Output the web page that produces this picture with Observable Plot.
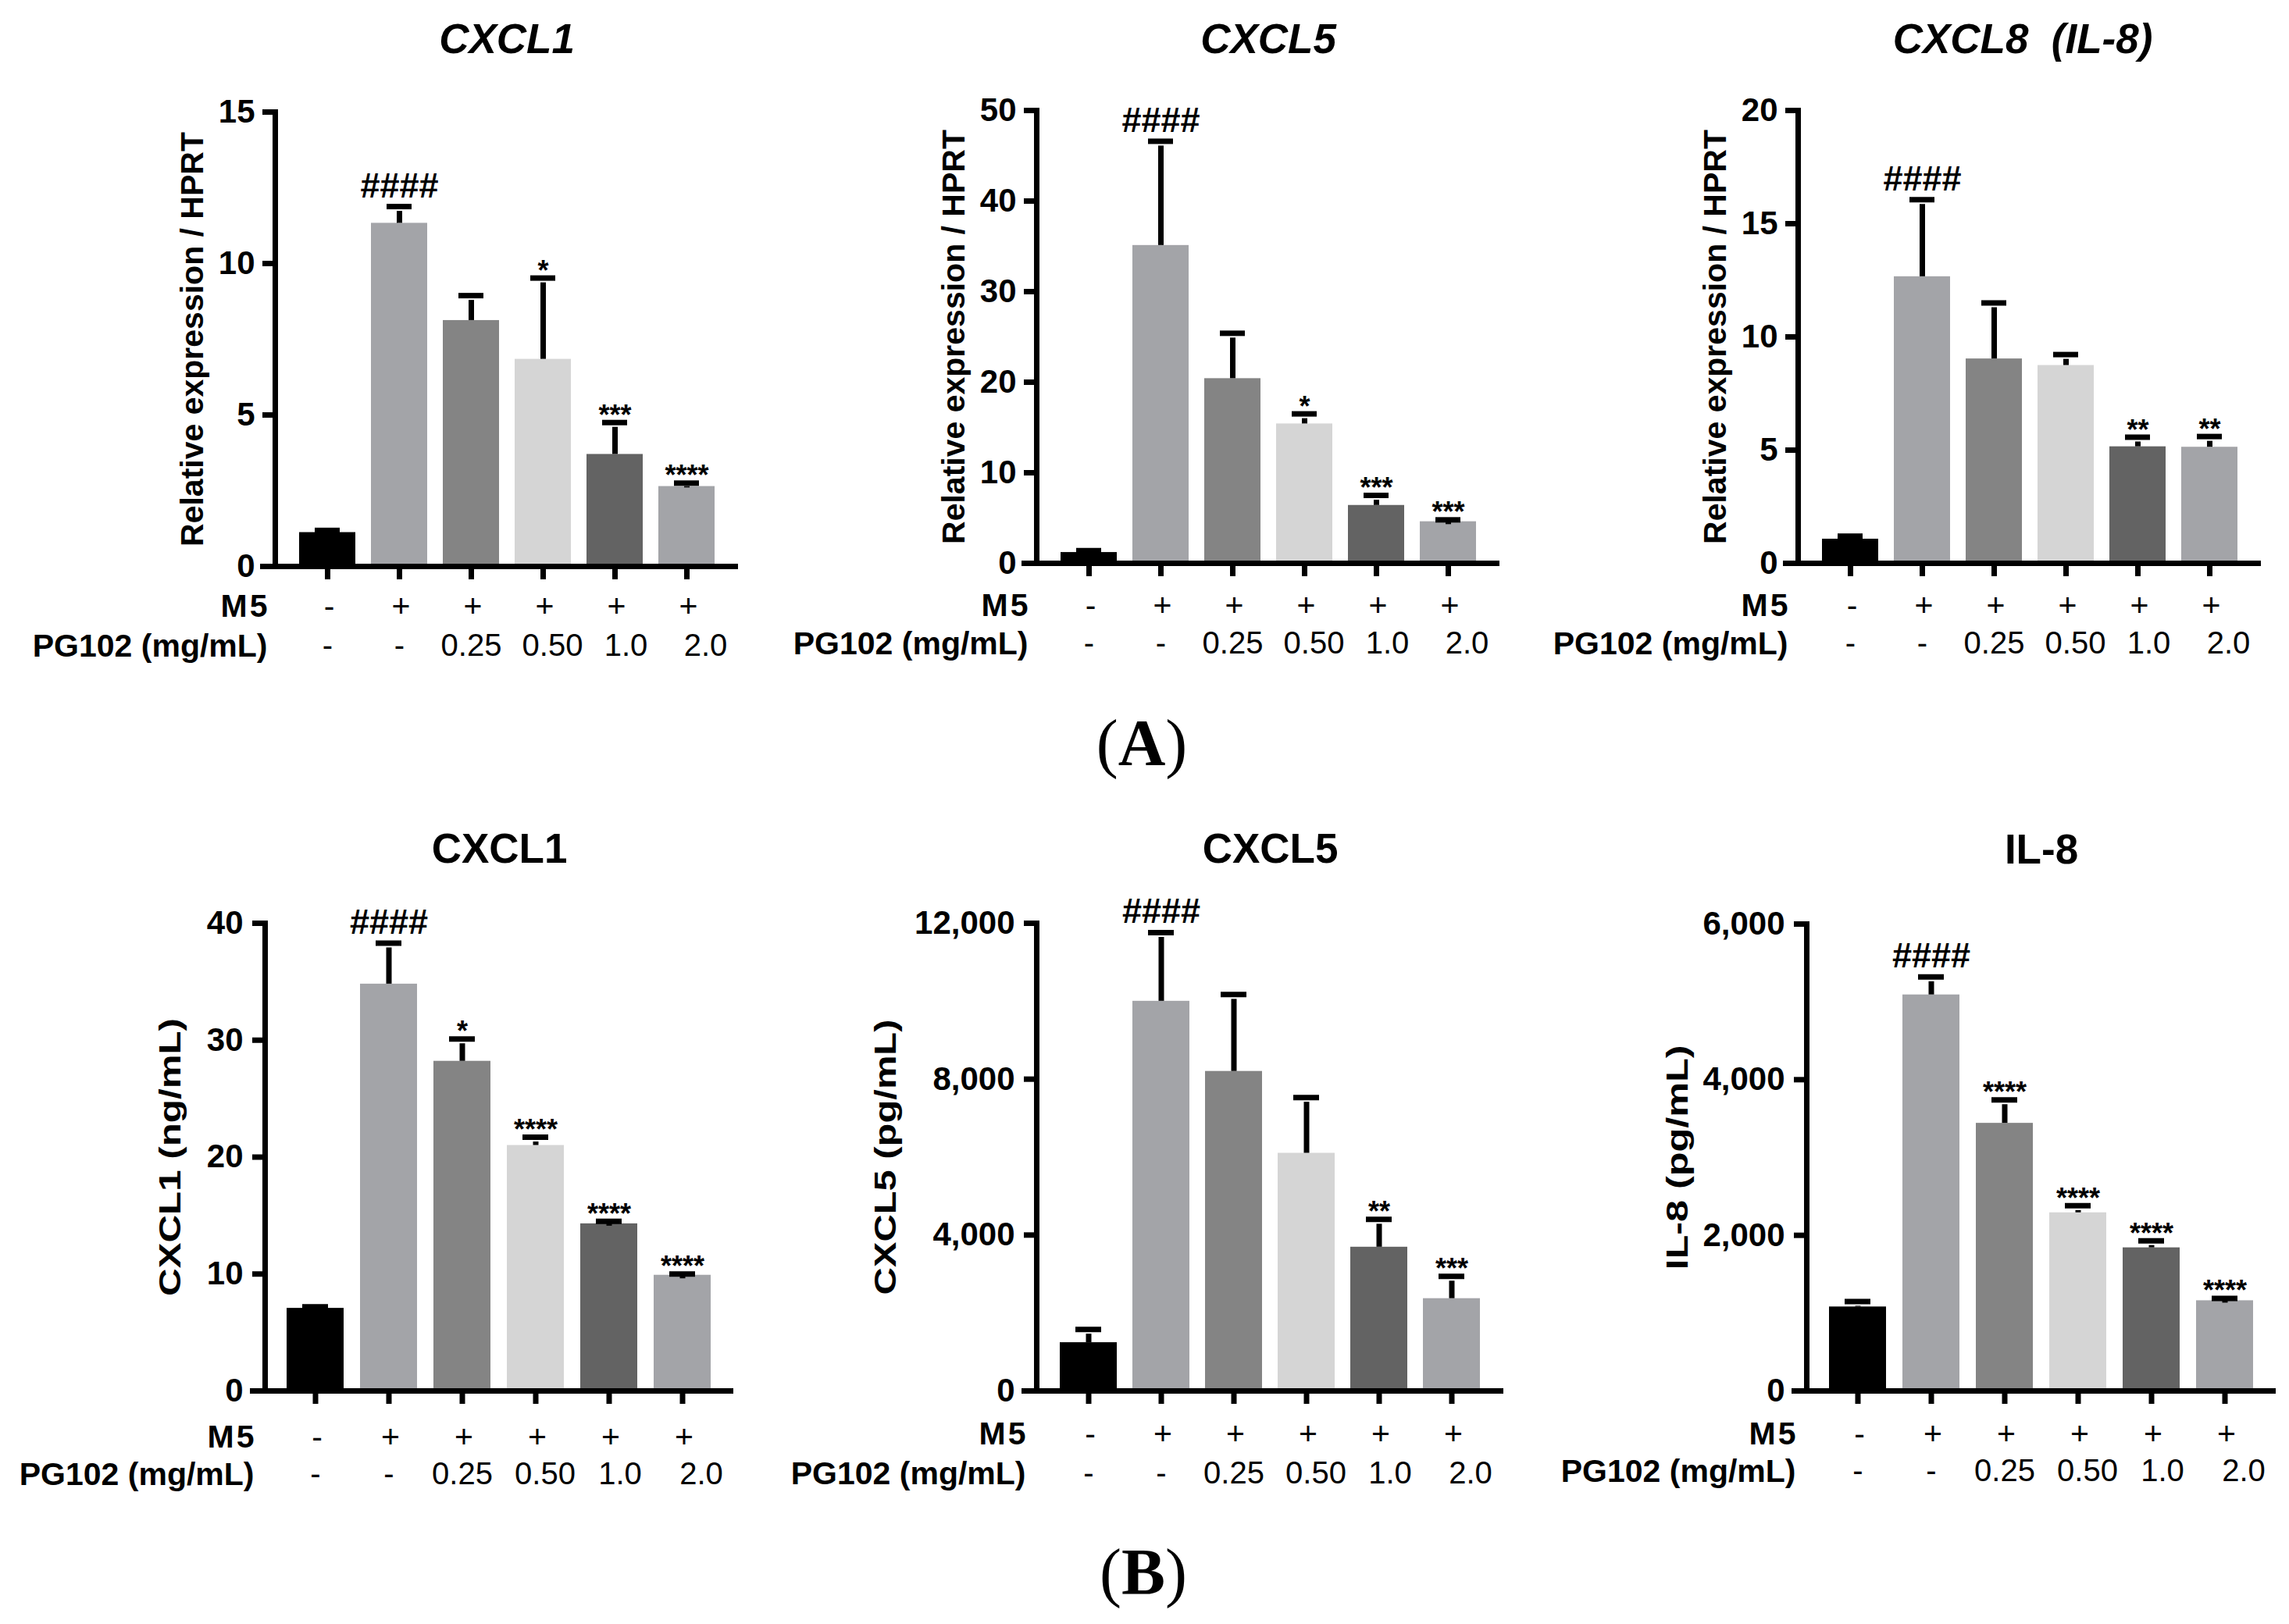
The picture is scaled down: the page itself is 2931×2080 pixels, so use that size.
<!DOCTYPE html>
<html><head><meta charset="utf-8">
<script src="https://cdn.jsdelivr.net/npm/d3@7"></script>
<script src="https://cdn.jsdelivr.net/npm/@observablehq/plot@0.6"></script>
<style>
html,body{margin:0;padding:0;background:#fff;}
body{width:2931px;height:2080px;position:relative;overflow:hidden;font-family:"Liberation Sans",Arial,sans-serif;}
.panel{position:absolute;}
.plabel{position:absolute;font-family:"Liberation Serif","Times New Roman",serif;font-size:84px;line-height:84px;width:300px;text-align:center;color:#000;}
</style></head><body>
<div class="plabel" style="left:1312px;top:910px">(<b>A</b>)</div>
<div class="plabel" style="left:1314px;top:1972px">(<b>B</b>)</div>
<script>
// ---- shared categories / labels ----
const categories = ["Control","M5","M5+PG102 0.25","M5+PG102 0.50","M5+PG102 1.0","M5+PG102 2.0"];
const m5Row = ["-","+","+","+","+","+"];
const pg102Row = ["-","-","0.25","0.50","1.0","2.0"];
const barColors = ["#000000","#a3a4a8","#848484","#d5d5d5","#636363","#a3a4a8"];

// ---- (A) mRNA, relative expression / HPRT (mean, mean + error) ----
const aCxcl1Mean  = [1.12, 11.33, 8.12, 6.84, 3.70, 2.64];
const aCxcl1Upper = [1.19, 11.88, 8.94, 9.52, 4.75, 2.75];
const aCxcl1Sig   = ["", "####", "", "*", "***", "****"];

const aCxcl5Mean  = [1.2, 35.1, 20.4, 15.4, 6.4, 4.6];
const aCxcl5Upper = [1.4, 46.6, 25.4, 16.5, 7.5, 4.8];
const aCxcl5Sig   = ["", "####", "", "*", "***", "***"];

const aCxcl8Mean  = [1.07, 12.66, 9.03, 8.74, 5.15, 5.13];
const aCxcl8Upper = [1.20, 16.06, 11.5, 9.22, 5.57, 5.60];
const aCxcl8Sig   = ["", "####", "", "", "**", "**"];

// ---- (B) protein (mean, mean + error) ----
const bCxcl1Mean  = [7.07, 34.8, 28.2, 21.0, 14.3, 9.9];
const bCxcl1Upper = [7.2, 38.3, 30.1, 21.7, 14.5, 10.0];
const bCxcl1Sig   = ["", "####", "*", "****", "****", "****"];

const bCxcl5Mean  = [1240, 10000, 8200, 6100, 3690, 2370];
const bCxcl5Upper = [1580, 11760, 10170, 7530, 4400, 2940];
const bCxcl5Sig   = ["", "####", "", "", "**", "***"];

const bIl8Mean  = [1080, 5090, 3440, 2290, 1840, 1160];
const bIl8Upper = [1150, 5320, 3740, 2380, 1930, 1190];
const bIl8Sig   = ["", "####", "****", "****", "****", "****"];

// tick values
const aCxcl1Ticks = [0, 5, 10, 15];
const aCxcl5Ticks = [0, 10, 20, 30, 40, 50];
const aCxcl8Ticks = [0, 5, 10, 15, 20];
const bCxcl1Ticks = [0, 10, 20, 30, 40];
const bCxcl5Ticks = [0, 4000, 8000, 12000];
const bIl8Ticks   = [0, 2000, 4000, 6000];

// ---- layout constants ----
const FAM = '"Liberation Sans", Arial, Helvetica, sans-serif';
const SW = 7;                              // line weight
const pgLabelNudge = [0, 0, 0, 12, 14, 24]; // horizontal nudge of dose labels (px)
const comma = d3.format(",");

function panel(cfg) {
  const data = categories.map((c, i) => ({
    cat: c, mean: cfg.mean[i], upper: cfg.upper[i], sig: cfg.sig[i],
    m5: m5Row[i], pg: pg102Row[i]
  }));
  const pgMarks = data.map((d, i) =>
    Plot.text([d], {x: "cat", text: "pg", frameAnchor: "bottom", dx: pgLabelNudge[i], dy: cfg.row2, lineAnchor: "middle", fontSize: 40}));
  const plot = Plot.plot({
    width: cfg.width, height: cfg.height,
    marginLeft: cfg.ml, marginRight: cfg.mr, marginTop: cfg.mt, marginBottom: cfg.mb,
    style: {fontFamily: FAM, background: "transparent", overflow: "visible", color: "#000"},
    x: {domain: categories, paddingInner: 0.22, paddingOuter: 0.3, axis: null},
    y: {domain: [cfg.ticks[0], cfg.ticks[cfg.ticks.length - 1]], axis: null},
    color: {domain: categories, range: barColors},
    marks: [
      Plot.barY(data, {x: "cat", y: "mean", fill: "cat"}),
      Plot.ruleX(data, {x: "cat", y1: "mean", y2: "upper", stroke: "#000", strokeWidth: SW, insetBottom: -6}),
      Plot.tickY(data, {x: "cat", y: "upper", stroke: "#000", strokeWidth: SW, insetLeft: 20, insetRight: 20}),
      Plot.text(data.filter(d => d.sig.startsWith("#")), {x: "cat", y: "upper", text: "sig", lineAnchor: "top", dy: -44, fontSize: 45, fontWeight: "bold"}),
      Plot.text(data.filter(d => d.sig.startsWith("*")), {x: "cat", y: "upper", text: "sig", lineAnchor: "top", dy: -23, fontSize: 36, fontWeight: "bold"}),
      Plot.axisY({ticks: cfg.ticks, tickSize: 16, tickPadding: cfg.tp, strokeWidth: SW, tickFormat: cfg.fmt, fontSize: 42, fontWeight: "bold", label: null}),
      Plot.axisX({tickSize: 17, strokeWidth: SW, tickFormat: () => "", label: null}),
      Plot.ruleY([0], {stroke: "#000", strokeWidth: SW, insetLeft: -19}),
      Plot.frame({anchor: "left", stroke: "#000", strokeWidth: SW}),
      Plot.text([cfg.title], {frameAnchor: "top", dy: cfg.titleDy, dx: cfg.titleDx || 0, lineAnchor: "bottom", fontSize: 53, fontWeight: "bold", fontStyle: cfg.italic ? "italic" : "normal"}),
      Plot.text([cfg.ylabel], {frameAnchor: "left", rotate: -90, dx: cfg.ylDx, lineAnchor: "bottom", textAnchor: "middle", fontSize: cfg.ylSize, fontWeight: "bold"}),
      Plot.text(data, {x: "cat", text: "m5", frameAnchor: "bottom", dx: 2, dy: cfg.row1, lineAnchor: "middle", fontSize: 41}),
      ...pgMarks,
      Plot.text(["M5"], {frameAnchor: "bottom-left", textAnchor: "end", dx: cfg.rowDx, dy: cfg.row1, lineAnchor: "middle", fontSize: 41, fontWeight: "bold"}),
      Plot.text(["PG102 (mg/mL)"], {frameAnchor: "bottom-left", textAnchor: "end", dx: cfg.rowDx, dy: cfg.row2, lineAnchor: "middle", fontSize: 41, fontWeight: "bold"})
    ]
  });
  const div = document.createElement("div");
  div.className = "panel";
  div.style.left = cfg.left + "px";
  div.style.top = cfg.top + "px";
  div.appendChild(plot);
  document.body.appendChild(div);
  plot.querySelectorAll("text").forEach(t => {
    if (cfg.ylLength && t.textContent === cfg.ylabel) {
      t.setAttribute("textLength", cfg.ylLength);
      t.setAttribute("lengthAdjust", "spacingAndGlyphs");
    }
    if (t.textContent === "M5") {
      t.setAttribute("textLength", 60);
      t.setAttribute("lengthAdjust", "spacing");
    }
  });
}

panel({left: 0, top: 0, width: 980, height: 930, ml: 352, mr: 35, mt: 143, mb: 205,
  mean: aCxcl1Mean, upper: aCxcl1Upper, sig: aCxcl1Sig, ticks: aCxcl1Ticks, fmt: d => d, tp: 10,
  title: "CXCL1", italic: true, titleDy: -76, ylabel: "Relative expression / HPRT", ylDx: -93, ylSize: 41,
  row1: 51, row2: 102, rowDx: -10});
panel({left: 980, top: 0, width: 970, height: 930, ml: 347, mr: 30, mt: 141, mb: 209,
  mean: aCxcl5Mean, upper: aCxcl5Upper, sig: aCxcl5Sig, ticks: aCxcl5Ticks, fmt: d => d, tp: 10,
  title: "CXCL5", italic: true, titleDy: -74, ylabel: "Relative expression / HPRT", ylDx: -93, ylSize: 41,
  row1: 54, row2: 103, rowDx: -11});
panel({left: 1950, top: 0, width: 981, height: 930, ml: 352, mr: 36, mt: 141, mb: 209,
  mean: aCxcl8Mean, upper: aCxcl8Upper, sig: aCxcl8Sig, ticks: aCxcl8Ticks, fmt: d => d, tp: 10,
  title: "CXCL8\u00a0\u00a0(IL-8)", italic: true, titleDy: -74, titleDx: -9, ylabel: "Relative expression / HPRT", ylDx: -93, ylSize: 41,
  row1: 54, row2: 103, rowDx: -13});
panel({left: 0, top: 1040, width: 980, height: 900, ml: 339, mr: 41, mt: 142, mb: 159,
  mean: bCxcl1Mean, upper: bCxcl1Upper, sig: bCxcl1Sig, ticks: bCxcl1Ticks, fmt: d => d, tp: 12,
  title: "CXCL1", italic: false, titleDy: -78, ylabel: "CXCL1 (ng/mL)", ylDx: -109, ylSize: 38, ylLength: 356,
  row1: 59, row2: 107, rowDx: -14});
panel({left: 980, top: 1040, width: 970, height: 900, ml: 347, mr: 25, mt: 142, mb: 159,
  mean: bCxcl5Mean, upper: bCxcl5Upper, sig: bCxcl5Sig, ticks: bCxcl5Ticks, fmt: comma, tp: 12,
  title: "CXCL5", italic: false, titleDy: -78, ylabel: "CXCL5 (pg/mL)", ylDx: -181, ylSize: 38, ylLength: 353,
  row1: 55, row2: 106, rowDx: -14});
panel({left: 1950, top: 1040, width: 981, height: 900, ml: 363, mr: 17, mt: 143, mb: 159,
  mean: bIl8Mean, upper: bIl8Upper, sig: bIl8Sig, ticks: bIl8Ticks, fmt: comma, tp: 12,
  title: "IL-8", italic: false, titleDy: -78, ylabel: "IL-8 (pg/mL)", ylDx: -153, ylSize: 38, ylLength: 288,
  row1: 55, row2: 103, rowDx: -14});
</script>
</body></html>
